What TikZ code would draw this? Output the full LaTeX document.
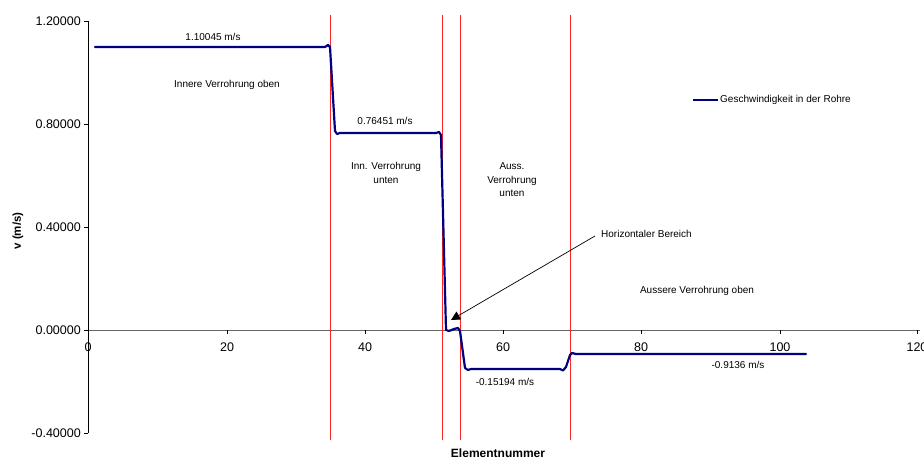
\documentclass[tikz,border=0pt]{standalone}
\usepackage{fontspec}
\setmainfont{Liberation Sans}
\usetikzlibrary{arrows.meta}
\definecolor{curve}{RGB}{0,0,128}
\tikzset{
  ticklab/.style={font=\fontsize{12.5}{14}\selectfont, inner sep=0pt},
  small/.style={font=\fontsize{10}{13.5}\selectfont, inner sep=0pt, align=center},
  sep/.style={draw=red!85!white, line width=1pt},
  axis/.style={draw=black, line width=0.8pt},
}
\begin{document}
\begin{tikzpicture}[x=1pt,y=-1pt]
\useasboundingbox[fill=white] (0,0) rectangle (924,462);
% axes
\draw[axis] (88,21) -- (88,433);
\foreach \yy/\lab in {21/1.20000,124/0.80000,227/0.40000,330/0.00000,433/-0.40000}{
  \draw[axis] (84,\yy) -- (88,\yy);
  \node[ticklab, anchor=east] at (81,\yy) {\lab};
}
\draw[draw=black!60, line width=0.9pt] (88,330) -- (920,330);
\foreach \xx/\lab in {88/0,227/20,365/40,503/60,641/80,780/100,917/120}{
  \draw[axis] (\xx,330) -- (\xx,334);
  \node[ticklab, anchor=north] at (\xx,343) {\lab};
}
% red separators
\foreach \xx in {330.5,442,460,570}{
  \draw[sep] (\xx,15) -- (\xx,440);
}
% curve
\draw[curve, line width=2.2pt, line join=round, line cap=round]
 (95,47) -- (325,47) -- (328,45) -- (330,47) -- (335,131) -- (337,134) -- (340,133)
 -- (436,133) -- (439,132) -- (441,135) -- (446,330) -- (449,331) -- (454,329)
 -- (458,328) -- (460,331) -- (465,368) -- (468,370) -- (471,369) -- (560,369)
 -- (563,370.5) -- (566,367) -- (570,355) -- (572,353) -- (576,354) -- (806,354);
% labels
\node[small] (l1) at (213,37) {1.10045 m/s};
\node[small] (l2) at (227,85) {Innere Verrohrung oben};
\node[small] (l3) at (385,121) {0.76451 m/s};
\node[small] (l4) at (386,173) {Inn. Verrohrung\\unten};
\node[small] (l5) at (512,180) {Auss.\\Verrohrung\\unten};
\node[small, anchor=west] (hb) at (601,234) {Horizontaler Bereich};
\node[small] (l7) at (697,291) {Aussere Verrohrung oben};
\node[small] (l8) at (505,382) {-0.15194 m/s};
\node[small] (l9) at (738,365) {-0.9136 m/s};
% arrow
\coordinate (as) at (595,236);
\coordinate (ae) at (451,320);
\draw[black, line width=0.7pt, -{Triangle[length=9pt,width=9pt]}] (as) -- (ae);
% legend
\draw[curve, line width=2.2pt] (693,100) -- (718,100);
\node[small, anchor=west] (leg) at (720,100) {Geschwindigkeit in der Rohre};
% axis titles
\node[font=\bfseries\fontsize{12}{14}\selectfont] (xt) at (498,453) {Elementnummer};
\node[font=\bfseries\fontsize{11.5}{14}\selectfont, rotate=90] (yt) at (18,231) {v (m/s)};
\end{tikzpicture}
\end{document}
